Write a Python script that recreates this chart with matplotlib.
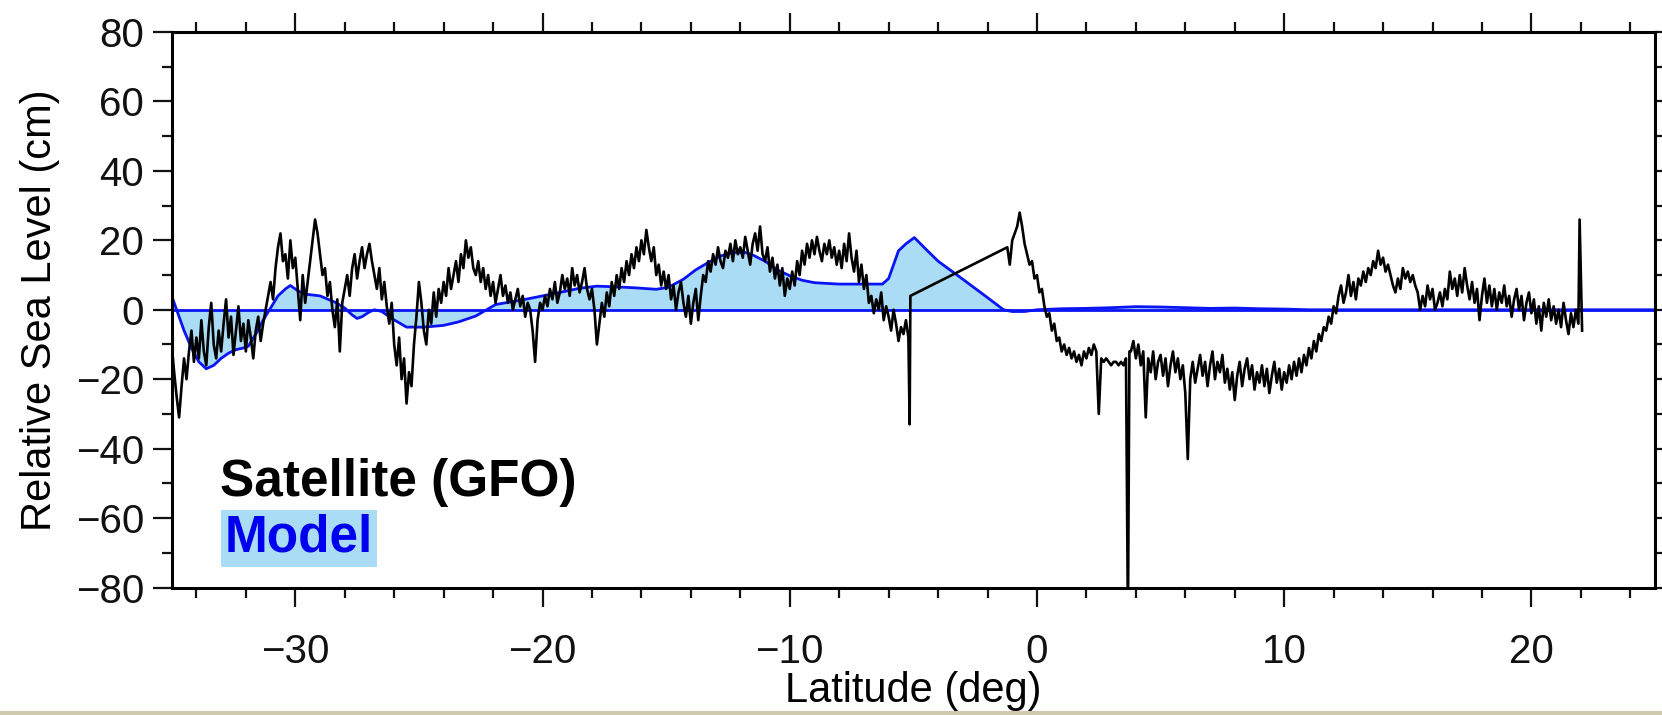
import numpy as np
import matplotlib.pyplot as plt
from matplotlib.patches import Rectangle
from matplotlib.ticker import MultipleLocator

plt.rcParams['font.family'] = ['Liberation Sans', 'DejaVu Sans']

# satellite (GFO) sea level, 0.1 deg steps
sat_a_start = -35.0
sat_a = [
    -10, -18, -25, -31, -22, -14, -20, -12, -6, -15,
    -8, -14, -3, -12, -16, -5, 2, -10, -14, -6,
    -12, -4, 3, -8, -2, -13, -6, 1, -9, -4,
    -12, -3, -8, -14, -6, -2, -9, -4, 0, 4,
    8, 3, 12, 18, 22, 14, 16, 9, 20, 12,
    15, 6, -3, 10, 2, 8, 14, 20, 26, 22,
    16, 10, 12, 4, 8, 0, -5, 3, -12, 2,
    6, 10, 4, 12, 16, 9, 14, 18, 12, 16,
    19, 14, 10, 6, 12, 3, 8, 1, -4, 2,
    -10, -16, -8, -20, -14, -27, -18, -22, -10, -2,
    8, 2, -6, -10, 0, -4, 5, -2, 6, 2,
    8, 4, 12, 6, 10, 14, 8, 16, 12, 20,
    15, 18, 12, 10, 14, 8, 12, 6, 10, 4,
    8, 2, 6, 10, 4, 7, 2, 5, 0, 3,
    6, 1, 4, -2, 2, 0, -6, -15, -3, 2,
    0, 4, 1, 6, 3, 8, 2, 5, 10, 6,
    9, 4, 12, 7, 10, 5, 8, 12, 6, 3,
    6, 0, -10, -4, 2, -2, 5, 1, 8, 4,
    10, 6, 12, 8, 14, 10, 16, 12, 18, 14,
    20, 16, 23, 18, 14, 18, 10, 13, 7, 11,
    6, 10, 3, 7, 0, 5, 8, 2, -2, 4,
    -4, 2, 6, -3, 4, 10, 8, 14, 11, 16,
    13, 18, 14, 12, 17, 15, 19, 14, 20, 16,
    18, 15, 21, 17, 13, 19, 22, 17, 24, 16,
    14, 18, 11, 15, 9, 13, 7, 12, 4, 9,
    6, 11, 7, 14, 10, 17, 13, 19, 15, 20,
    16, 21, 17, 14, 19, 16, 20, 15, 18, 13,
    17, 12, 19, 14, 22, 15, 11, 17, 8, 13,
    6, 10, 2, 4, -1, 3, 0, 5, -3, 1,
    -2, -6, 0, -4, -9, -5, -7, -3,
]
gap1_lat = [-5.2, -5.15, -5.12, -1.2]
gap1_val = [-8, -33, 4, 18]

sat_b_start = -1.1
sat_b = [
    13, 20, 22, 24, 28, 24, 19, 16, 13, 14,
    9, 10, 5, 6, 1, -2, -1, -6, -4, -9,
    -8, -12, -10, -13, -11, -14, -12, -15, -13, -16,
    -12, -14, -11, -13, -10, -12, -30, -14, -15, -14,
    -15, -16, -15, -15, -16, -15, -16, -14,
]
gap2_lat = [3.68, 3.74]
gap2_val = [-90, -12]

sat_c_start = 3.8
sat_c = [
    -12, -9, -14, -10, -16, -12, -31, -14, -18, -12,
    -20, -15, -13, -19, -14, -22, -16, -12, -18, -14,
    -20, -16, -24, -43, -20, -15, -21, -17, -13, -19,
    -15, -22, -16, -12, -20, -15, -18, -13, -21, -17,
    -23, -18, -26, -19, -15, -22, -17, -14, -20, -16,
    -23, -18, -21, -16, -22, -17, -24, -19, -15, -21,
    -17, -23, -18, -21, -16, -20, -15, -19, -14, -18,
    -13, -16, -11, -14, -9, -12, -7, -9, -5, -6,
    -2, -4, 1, -1, 4, 7, 2, 5, 10, 4,
    8, 3, 9, 7, 11, 8, 12, 10, 14, 12,
    17, 13, 15, 11, 13, 10, 7, 5, 9, 6,
    12, 9, 11, 8, 10, 7, 5, 0, 4, 1,
    7, 3, 6, 0, 2, 5, 1, 6, 3, 11,
    6, 9, 4, 10, 5, 12, 7, 3, 8, 2,
    6, -3, 4, 9, 2, 7, 1, 6, 0, 5,
    2, 7, 1, 4, -2, 3, 6, 0, 4, -3,
    2, 5, -1, 3, -4, 1, -6, 2, -2, 3,
    -3, 1, -4, 0, -5, 2, -3, -7, -1, -5,
    0, -4,
]
end_lat = [21.95, 22.05]
end_val = [26, -6]

# model sea level
model_lat = [-35.0, -34.8, -34.5, -34.2, -33.9, -33.6, -33.3, -33.0, -32.7, -32.4,
             -32.1, -31.9, -31.6, -31.3, -31.0, -30.7, -30.4, -30.2, -29.9, -29.6,
             -29.0, -28.4, -28.0, -27.7, -27.5, -27.3, -27.0, -26.8, -26.5, -26.1,
             -25.5, -24.8, -24.0, -23.4, -22.7, -21.9, -20.7, -20.0, -19.3, -18.5,
             -17.8, -17.0, -16.2, -15.4, -14.9, -14.3, -13.8, -13.3, -12.8, -12.3,
             -11.8, -11.5, -11.0, -10.5, -10.0, -9.5, -9.0, -8.0, -7.0, -6.25,
             -6.0, -5.8, -5.6, -5.3, -4.96, -4.5, -4.0, -3.0, -2.0, -1.35,
             -1.0, -0.5, 0.0, 1.0, 2.0, 3.0, 4.0, 5.0, 6.0, 7.0,
             8.0, 9.0, 10.0, 11.0, 25.0]
model_val = [4, 0, -6, -11, -15, -17, -16, -14, -12.5, -11.5,
             -11, -10.5, -7, -3, 0.5, 4, 6, 7, 5.5, 4.5,
             4, 2.2, 0.5, -1.5, -2.5, -2, -0.6, 0, -0.5, -2.5,
             -5, -5, -4.5, -3.5, -1.8, 1.5, 3, 4, 5, 6.2,
             6.8, 6.6, 6.3, 5.9, 6.5, 8.8, 11.5, 13.6, 15.5, 16.5,
             16.5, 15.8, 14, 11.5, 9.8, 8.5, 7.8, 7.4, 7.4, 7.4,
             9, 13, 17, 19, 20.8, 17.5, 14, 8.8, 3.5, 0,
             -0.5, -0.5, 0, 0.3, 0.4, 0.6, 0.9, 0.8, 0.6, 0.4,
             0.5, 0.3, 0.2, 0, 0]

sat_lat = np.concatenate([
    sat_a_start + 0.1 * np.arange(len(sat_a)), gap1_lat,
    sat_b_start + 0.1 * np.arange(len(sat_b)), gap2_lat,
    sat_c_start + 0.1 * np.arange(len(sat_c)), end_lat])
sat_val = np.concatenate([sat_a, gap1_val, sat_b, gap2_val, sat_c, end_val])

fig = plt.figure(figsize=(16.62, 7.15), dpi=100)
ax = fig.add_axes([0.1033, 0.1783, 0.8925, 0.7769])

ax.fill_between(model_lat, model_val, 0, color='#aadcf5', lw=0, zorder=1)
ax.axhline(0, color='#0a14f5', lw=2, zorder=2)
ax.plot(model_lat, model_val, color='#0a14f5', lw=2, zorder=2)
ax.plot(sat_lat, sat_val, color='black', lw=1.9, zorder=3)

ax.set_xlim(-35, 25)
ax.set_ylim(-80, 80)
ax.xaxis.set_major_locator(MultipleLocator(10))
ax.xaxis.set_minor_locator(MultipleLocator(2))
ax.yaxis.set_major_locator(MultipleLocator(20))
ax.yaxis.set_minor_locator(MultipleLocator(10))
ax.tick_params(which='both', direction='out', top=True, right=True, width=1.6,
               labelsize=29, colors='#111111')
ax.tick_params(which='major', length=14, pad=6)
ax.tick_params(which='minor', length=7)
ax.tick_params(axis='x', which='major', pad=19)
for s in ax.spines.values():
    s.set_linewidth(2.2)

ax.set_xlabel('Latitude (deg)', fontsize=30, labelpad=0)
ax.set_ylabel('Relative Sea Level (cm)', fontsize=30, labelpad=11)

ax.text(0.0326, 0.165, 'Satellite (GFO)', transform=ax.transAxes, fontsize=37,
        fontweight='bold', color='black', va='baseline')
ax.text(0.036, 0.064, 'Model', transform=ax.transAxes, fontsize=37,
        fontweight='bold', color='#0000ee', va='baseline',
        bbox=dict(boxstyle='square,pad=0.08', fc='#aadcf5', ec='none'))

# strip of page background along the bottom edge
fig.patches.append(Rectangle((0, 0), 1, 4 / 715, transform=fig.transFigure,
                             facecolor='#cdc9ad', lw=0, zorder=0))

fig.savefig('out.png', dpi=100)
